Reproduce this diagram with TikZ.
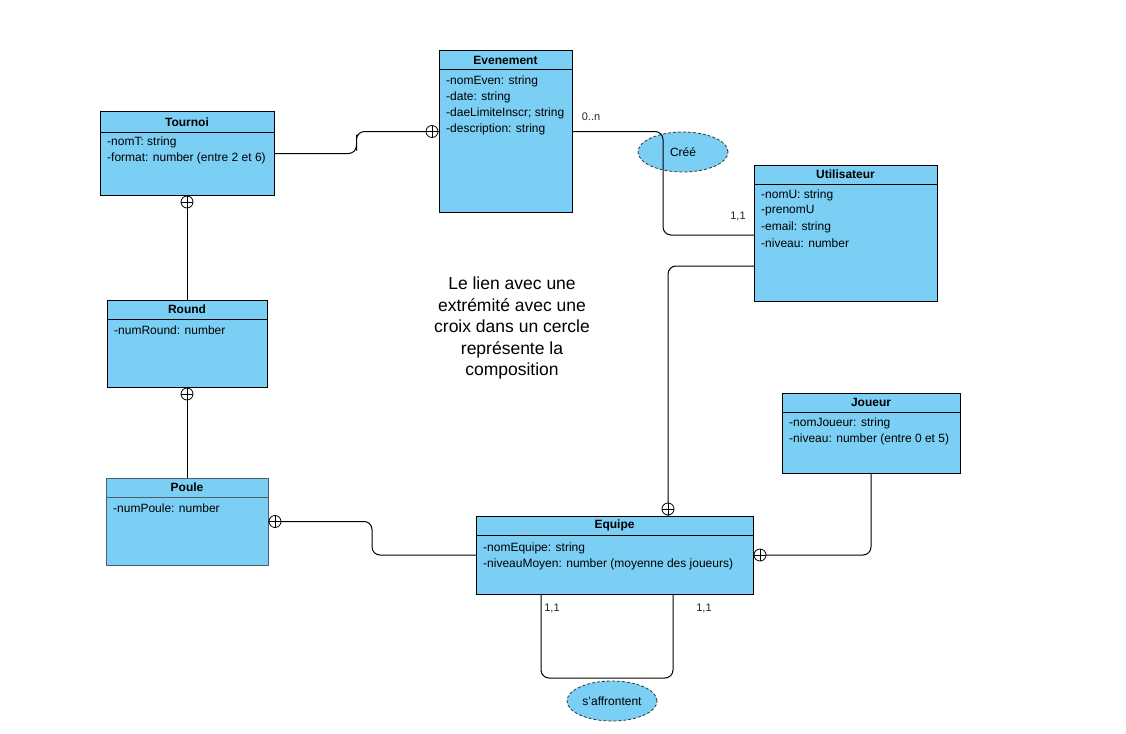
\documentclass[tikz,border=0pt]{standalone}
\usepackage{fontspec}
\setmainfont{Liberation Sans}
\usetikzlibrary{shapes.geometric,calc}
\definecolor{clsfill}{HTML}{7BCFF4}
\definecolor{poulebord}{HTML}{4D5E69}
\definecolor{elbord}{HTML}{333333}
\tikzset{
  cls/.style={draw=black, fill=clsfill, line width=1pt, anchor=north west, inner sep=0pt, outer sep=0pt},
  hdr/.style={font=\fontsize{12}{14}\selectfont\bfseries, inner sep=0pt, anchor=center},
  attr/.style={font=\fontsize{12}{14}\selectfont, inner sep=0pt, anchor=west},
  conn/.style={draw=black, line width=1pt, rounded corners=8pt},
  cplus/.style={circle, draw=black, fill=white, line width=0.8pt, minimum size=12pt, inner sep=0pt,
    path picture={\draw[line width=0.8pt] (path picture bounding box.north) -- (path picture bounding box.south)
      (path picture bounding box.west) -- (path picture bounding box.east);}},
  rel/.style={ellipse, draw=elbord, dashed, dash pattern=on 3pt off 2pt, fill=clsfill, line width=0.8pt,
    minimum width=90pt, minimum height=40pt, inner sep=0pt, font=\fontsize{12}{14}\selectfont},
  card/.style={font=\fontsize{11}{13}\selectfont, inner sep=0pt, text=black!85},
  note/.style={font=\fontsize{17.5}{21.5}\selectfont, align=center, inner sep=0pt}
}
\begin{document}
\begin{tikzpicture}[x=1pt,y=-1pt]
\useasboundingbox (0,0) rectangle (1126,733);

% ---------- classes ----------
% Tournoi
\node[cls, minimum width=174pt, minimum height=83pt] (tournoi) at (100,112) {};
\draw[line width=1pt] (100,132) -- (274,132);
\node[hdr] (tournoiT) at (187,122) {Tournoi};
\node[attr] (tournoiA1) at (107,142) {-nomT: string};
\node[attr] (tournoiA2) at (107,158) {-format: number (entre 2 et 6)};

% Evenement
\node[cls, minimum width=133pt, minimum height=161pt] (evenement) at (439,51) {};
\draw[line width=1pt] (439,70) -- (572,70);
\node[hdr] (evenementT) at (505.5,60.5) {Evenement};
\node[attr] (evA1) at (446,81) {-nomEven: string};
\node[attr] (evA2) at (446,97) {-date: string};
\node[attr] (evA3) at (446,113) {-daeLimiteInscr; string};
\node[attr] (evA4) at (446,129) {-description: string};

% Utilisateur
\node[cls, minimum width=183pt, minimum height=136pt] (utilisateur) at (754,165) {};
\draw[line width=1pt] (754,184) -- (937,184);
\node[hdr] (utilisateurT) at (845.5,174.5) {Utilisateur};
\node[attr] (utA1) at (761,195) {-nomU: string};
\node[attr] (utA2) at (761,211) {-prenomU};
\node[attr] (utA3) at (761,227) {-email: string};
\node[attr] (utA4) at (761,243) {-niveau: number};

% Round
\node[cls, minimum width=160pt, minimum height=87pt] (round) at (107,300) {};
\draw[line width=1pt] (107,319) -- (267,319);
\node[hdr] (roundT) at (187,309.5) {Round};
\node[attr] (roundA1) at (114,330) {-numRound: number};

% Poule
\node[cls, draw=poulebord, minimum width=162pt, minimum height=87pt] (poule) at (106,478) {};
\draw[line width=1pt, poulebord] (106,497) -- (268,497);
\node[hdr] (pouleT) at (187,487.5) {Poule};
\node[attr] (pouleA1) at (113,508) {-numPoule: number};

% Equipe
\node[cls, minimum width=277pt, minimum height=78pt] (equipe) at (476,516) {};
\draw[line width=1pt] (476,535) -- (753,535);
\node[hdr] (equipeT) at (614.5,525.5) {Equipe};
\node[attr] (eqA1) at (483,548) {-nomEquipe: string};
\node[attr] (eqA2) at (483,564) {-niveauMoyen: number (moyenne des joueurs)};

% Joueur
\node[cls, minimum width=178pt, minimum height=80pt] (joueur) at (782,393) {};
\draw[line width=1pt] (782,412) -- (960,412);
\node[hdr] (joueurT) at (871,402.5) {Joueur};
\node[attr] (joA1) at (789,423) {-nomJoueur: string};
\node[attr] (joA2) at (789,439) {-niveau: number (entre 0 et 5)};

% ---------- relations (ellipses) ----------
\node[rel] (cree) at (683,152) {Créé};
\node[rel] (affr) at (612,701) {s{\char"27}affrontent};

% ---------- connectors ----------
% Tournoi -> Evenement
\draw[conn] (tournoi.east) -| ($(tournoi.east)!0.5!(evenement.west)$) |- (evenement.west);
\node[cplus] (cp1) at ([xshift=-7pt]evenement.west) {};

% Tournoi -> Round
\draw[conn] (tournoi.south) -- (round.north);
\node[cplus] (cp2) at ([yshift=-7pt]tournoi.south) {};

% Round -> Poule
\draw[conn] (round.south) -- (poule.north);
\node[cplus] (cp3) at ([yshift=-7pt]round.south) {};

% Poule -> Equipe
\draw[conn] (poule.east) -| ($(poule.east)!0.5!(equipe.west)$) |- (equipe.west);
\node[cplus] (cp4) at ([xshift=7pt]poule.east) {};

% Evenement -> Utilisateur (Créé)
\coordinate (u1) at ([yshift=-2pt]utilisateur.west);
\draw[conn] (evenement.east) -| ([xshift=-91pt]u1) -- (u1);
\node[card] (c0n) at (591,117) {0..n};
\node[card] (c11a) at (738,216) {1,1};

% Utilisateur -> Equipe
\coordinate (u2) at ([yshift=-33pt]utilisateur.west);
\coordinate (e1) at ([xshift=53.5pt]equipe.north);
\draw[conn] (u2) -| (e1);
\node[cplus] (cp5) at ([yshift=7pt]e1) {};

% Joueur -> Equipe
\draw[conn] (joueur.south) |- (equipe.east);
\node[cplus] (cp6) at ([xshift=7pt]equipe.east) {};

% Equipe self-loop (s'affrontent)
\coordinate (s1) at ([xshift=-73.5pt]equipe.south);
\coordinate (s2) at ([xshift=58.5pt]equipe.south);
\draw[conn] (s1) -- ++(0,84) -| (s2);
\node[card] (c11b) at (552,608) {1,1};
\node[card] (c11c) at (704,608) {1,1};

% ---------- note ----------
\node[note] (note) at (512,328) {Le lien avec une\\extrémité avec une\\croix dans un cercle\\représente la\\composition};
\end{tikzpicture}
\end{document}
